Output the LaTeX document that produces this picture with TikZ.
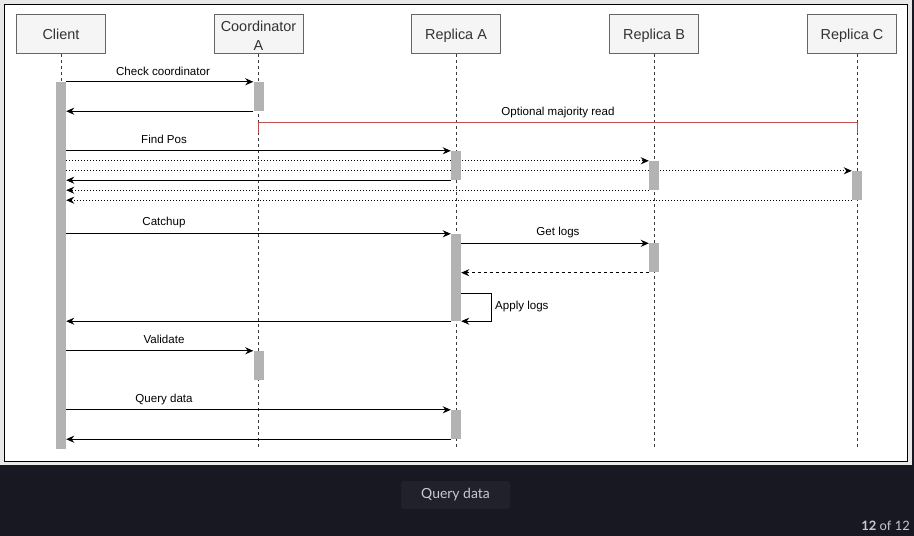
\documentclass[tikz,border=0pt]{standalone}
\usepackage{fontspec}
\setmainfont{Liberation Sans}
\newfontfamily\uifont{Lato}
\usetikzlibrary{arrows.meta,calc}
\definecolor{pagebg}{HTML}{171821}
\definecolor{framebg}{HTML}{E8E8E8}
\definecolor{hdrfill}{HTML}{F5F5F5}
\definecolor{hdrline}{HTML}{666666}
\definecolor{hdrtext}{HTML}{333333}
\definecolor{barc}{HTML}{B3B3B3}
\definecolor{lifec}{HTML}{3A3A3A}
\definecolor{optred}{HTML}{C0504D}
\definecolor{capfill}{HTML}{20212B}
\definecolor{captext}{HTML}{C8C9D2}
\pgfdeclarelayer{back}
\pgfdeclarelayer{mid}
\pgfsetlayers{back,mid,main}
\begin{document}
\begin{tikzpicture}[x=1bp,y=-1bp,
  hdr/.style={draw=hdrline, line width=1bp, fill=hdrfill, minimum width=89bp, minimum height=39bp, inner sep=0pt,
    font=\fontsize{14.5}{18.5}\selectfont, text=hdrtext, align=center},
  hdrone/.style={hdr, text height=10.6bp, text depth=0bp},
  bar/.style={fill=barc, draw=none, minimum width=10bp, inner sep=0pt},
  life/.style={draw=lifec, line width=1bp, dash pattern=on 3bp off 3bp},
  msg/.style={draw=black, line width=1.1bp, -{Stealth[length=8bp,width=7bp]}},
  dotmsg/.style={msg, dash pattern=on 1bp off 2bp},
  retdash/.style={msg, dash pattern=on 3bp off 3bp},
  opt/.style={draw=optred, line width=1bp},
  lbl/.style={inner sep=0pt, font=\fontsize{11.6}{13}\selectfont, text=black},
  captionbox/.style={fill=capfill, rounded corners=3bp, minimum width=109bp, minimum height=28bp, inner sep=0pt,
    font=\uifont\fontsize{14}{16}\selectfont, text=captext}
]
\useasboundingbox (0,0) rectangle (914,536);
\begin{pgfonlayer}{back}
\fill[pagebg] (0,0) rectangle (914,536);
\fill[framebg] (0,0) rectangle (912,465);
\draw[black, line width=1bp, fill=white] (4.5,4.5) rectangle (907,461.5);
\end{pgfonlayer}

% headers
\node[hdrone] (client) at (61,34) {Client};
\node[hdr] (coord) at (258.5,34) {\rule{0pt}{14.4bp}Coordinator\\A};
\node[hdrone] (ra) at (456,34) {Replica A};
\node[hdrone] (rb) at (654,34) {Replica B};
\node[hdrone] (rc) at (852,34) {Replica C};

% activation bars
\node[bar, minimum height=367bp] (cb) at (61,265.5) {};
\node[bar, minimum height=29bp] (ca1) at (258.5,96.5) {};
\node[bar, minimum height=29bp] (ca2) at (258.5,365.5) {};
\node[bar, minimum height=29bp] (ra1) at (456,165.5) {};
\node[bar, minimum height=87bp] (ra2) at (456,277.5) {};
\node[bar, minimum height=29bp] (ra3) at (456,424.5) {};
\node[bar, minimum height=29bp] (rb1) at (654,175.5) {};
\node[bar, minimum height=29bp] (rb2) at (654,258) {};
\node[bar, minimum height=29bp] (rc1) at (857,185.5) {};

% lifeline ends
\coordinate (cle) at (61,450);
\coordinate (kle) at (258.5,450);
\coordinate (ale) at (456,450);
\coordinate (ble) at (654,450);
\coordinate (rcs) at (857,54);
\coordinate (cce) at (857,450);
\coordinate (optL) at (258.5,133);
\coordinate (optR) at (857,133);

% labels
\node[lbl] (l1) at (163,71) {Check coordinator};
\node[lbl] (l2) at (558,112.5) {Optional majority read};
\node[lbl] (l3) at (164,139.5) {Find Pos};
\node[lbl] (l4) at (164,223) {Catchup};
\node[lbl] (l5) at (558,233) {Get logs};
\node[lbl, anchor=west] (l6) at (495,307) {Apply logs};
\node[lbl] (l7) at (164,339.5) {Validate};
\node[lbl] (l8) at (164,400) {Query data};

\begin{pgfonlayer}{mid}
\draw[life] (client.south) -- (cle);
\draw[life] (coord.south) -- (kle);
\draw[life] (ra.south) -- (ale);
\draw[life] (rb.south) -- (ble);
\draw[life] (rcs) -- (cce);

\draw[msg] (ca1.north west -| cb.east) -- (ca1.north west);
\draw[msg] (ca1.south west) -- (ca1.south west -| cb.east);
\draw[opt] (optL) -- ++(0,-10) -| (optR);
\draw[msg] (ra1.north west -| cb.east) -- (ra1.north west);
\draw[dotmsg] (rb1.north west -| cb.east) -- (rb1.north west);
\draw[dotmsg] (rc1.north west -| cb.east) -- (rc1.north west);
\draw[msg] (ra1.south west) -- (ra1.south west -| cb.east);
\draw[dotmsg] (rb1.south west) -- (rb1.south west -| cb.east);
\draw[dotmsg] (rc1.south west) -- (rc1.south west -| cb.east);
\draw[msg] (ra2.north west -| cb.east) -- (ra2.north west);
\draw[msg] (rb2.north west -| ra2.east) -- (rb2.north west);
\draw[retdash] (rb2.south west) -- (rb2.south west -| ra2.east);
\draw[msg] ($(ra2.north east)+(0,60)$) -- ++(30,0) |- (ra2.south east);
\draw[msg] (ra2.south west) -- (ra2.south west -| cb.east);
\draw[msg] (ca2.north west -| cb.east) -- (ca2.north west);
\draw[msg] (ra3.north west -| cb.east) -- (ra3.north west);
\draw[msg] (ra3.south west) -- (ra3.south west -| cb.east);
\end{pgfonlayer}

% bottom caption bar
\node[captionbox] (capbox) at (455.5,495) {Query data};
\node[inner sep=0pt, anchor=east, font=\uifont\fontsize{13}{15}\selectfont, text=captext] (pager) at (910,526) {\textbf{12} of 12};
\end{tikzpicture}
\end{document}
